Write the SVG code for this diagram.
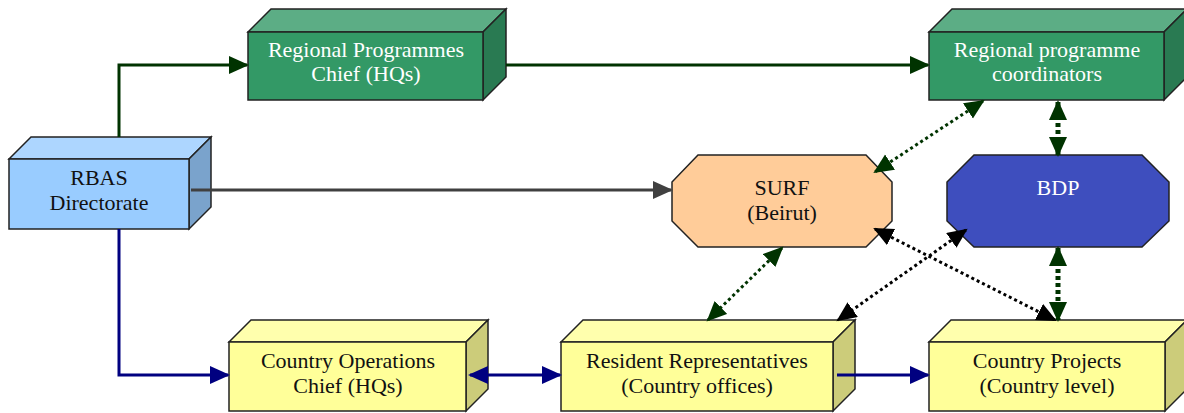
<svg xmlns="http://www.w3.org/2000/svg" width="1184" height="413" viewBox="0 0 1184 413">
<style>
.box{stroke:#222;stroke-width:1.5;stroke-linejoin:miter}
.t{font-family:"Liberation Serif","Times New Roman",serif;font-size:22px;text-anchor:middle;fill:#111}
.w{fill:#fff}
.ln{fill:none;stroke-width:3}
.dot{fill:none;stroke-width:3;stroke-dasharray:3 3}
.thick{fill:none;stroke-width:5;stroke-dasharray:4 3}
</style>
<defs>
<marker id="ag" markerUnits="userSpaceOnUse" markerWidth="22" markerHeight="20" refX="18" refY="9" orient="auto-start-reverse"><path d="M0,0 L20,9 L0,18 z" fill="#003300"/></marker>
<marker id="an" markerUnits="userSpaceOnUse" markerWidth="22" markerHeight="20" refX="18" refY="9" orient="auto-start-reverse"><path d="M0,0 L20,9 L0,18 z" fill="#000080"/></marker>
<marker id="ay" markerUnits="userSpaceOnUse" markerWidth="22" markerHeight="20" refX="18" refY="9" orient="auto-start-reverse"><path d="M0,0 L20,9 L0,18 z" fill="#404040"/></marker>
<marker id="ab" markerUnits="userSpaceOnUse" markerWidth="22" markerHeight="20" refX="18" refY="9" orient="auto-start-reverse"><path d="M0,0 L20,9 L0,18 z" fill="#000"/></marker>
</defs>

<g id="rbas">
<polygon class="box" fill="#ADD6FF" points="9,159 31,137 211,137 189,159"/>
<polygon class="box" fill="#7AA3CC" points="189,159 211,137 211,207 189,229"/>
<rect class="box" fill="#99CCFF" x="9" y="159" width="180" height="70"/>
<text class="t" x="99" y="185">RBAS</text>
<text class="t" x="99" y="210">Directorate</text>
</g>

<g id="regional-chief">
<polygon class="box" fill="#5CAD85" points="248,32 271,9 506,9 483,32"/>
<polygon class="box" fill="#297A52" points="483,32 506,9 506,77 483,100"/>
<rect class="box" fill="#339966" x="248" y="32" width="235" height="68"/>
<text class="t w" x="366" y="57">Regional Programmes</text>
<text class="t w" x="366" y="81">Chief (HQs)</text>
</g>

<g id="coordinators">
<polygon class="box" fill="#5CAD85" points="929,32 952,9 1187,9 1164,32"/>
<polygon class="box" fill="#297A52" points="1164,32 1187,9 1187,77 1164,100"/>
<rect class="box" fill="#339966" x="929" y="32" width="235" height="68"/>
<text class="t w" x="1047" y="57">Regional programme</text>
<text class="t w" x="1047" y="81">coordinators</text>
</g>

<g id="surf">
<polygon class="box" fill="#FFCC99" points="698,155 866,155 892,182 892,221 866,247 698,247 672,221 672,182"/>
<text class="t" x="782" y="195">SURF</text>
<text class="t" x="782" y="220">(Beirut)</text>
</g>

<g id="bdp">
<polygon class="box" fill="#3E4EBE" points="974,155 1142,155 1169,182 1169,221 1142,247 974,247 947,221 947,182"/>
<text class="t w" x="1058" y="195">BDP</text>
</g>

<g id="country-ops">
<polygon class="box" fill="#FFFFAD" points="229,342 251,320 488,320 466,342"/>
<polygon class="box" fill="#CCCC7A" points="466,342 488,320 488,389 466,411"/>
<rect class="box" fill="#FFFF99" x="229" y="342" width="237" height="69"/>
<text class="t" x="348" y="368">Country Operations</text>
<text class="t" x="348" y="393">Chief (HQs)</text>
</g>

<g id="resident-reps">
<polygon class="box" fill="#FFFFAD" points="561,342 583,320 855,320 833,342"/>
<polygon class="box" fill="#CCCC7A" points="833,342 855,320 855,389 833,411"/>
<rect class="box" fill="#FFFF99" x="561" y="342" width="272" height="69"/>
<text class="t" x="697" y="368">Resident Representatives</text>
<text class="t" x="697" y="393">(Country offices)</text>
</g>

<g id="country-projects">
<polygon class="box" fill="#FFFFAD" points="929,342 951,320 1187,320 1165,342"/>
<polygon class="box" fill="#CCCC7A" points="1165,342 1187,320 1187,389 1165,411"/>
<rect class="box" fill="#FFFF99" x="929" y="342" width="236" height="69"/>
<text class="t" x="1047" y="368">Country Projects</text>
<text class="t" x="1047" y="393">(Country level)</text>
</g>

<g id="connectors">
<path class="ln" stroke="#003300" d="M119,137 V65 H247" marker-end="url(#ag)"/>
<path class="ln" stroke="#003300" d="M506,65 H928" marker-end="url(#ag)"/>
<path class="ln" stroke="#404040" d="M191,190 H671" marker-end="url(#ay)"/>
<path class="ln" stroke="#000080" d="M119,229 V375 H228" marker-end="url(#an)"/>
<path class="ln" stroke="#000080" d="M470,375 H560" marker-start="url(#an)" marker-end="url(#an)"/>
<path class="ln" stroke="#000080" d="M837,375 H928" marker-end="url(#an)"/>
<path class="thick" stroke="#003300" d="M1058,102 V155" marker-start="url(#ag)" marker-end="url(#ag)"/>
<path class="thick" stroke="#003300" d="M1058,248 V320" marker-start="url(#ag)" marker-end="url(#ag)"/>
<path class="dot" stroke="#003300" d="M983,101 L875,172" marker-start="url(#ag)" marker-end="url(#ag)"/>
<path class="dot" stroke="#000" d="M875,229 L1055,320" marker-start="url(#ab)" marker-end="url(#ab)"/>
<path class="dot" stroke="#000" d="M966,230 L838,320" marker-start="url(#ab)" marker-end="url(#ab)"/>
<path class="dot" stroke="#003300" d="M782,248 L708,320" marker-start="url(#ag)" marker-end="url(#ag)"/>
</g>
</svg>
